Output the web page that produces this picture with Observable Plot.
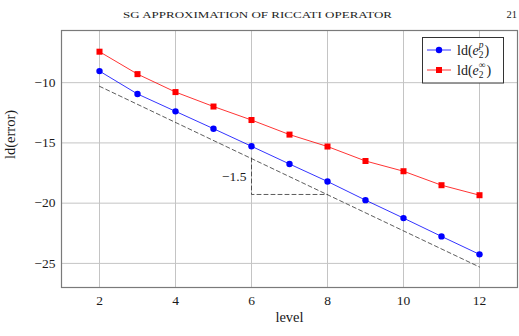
<!DOCTYPE html>
<html>
<head>
<meta charset="utf-8">
<script src="https://cdn.jsdelivr.net/npm/d3@7"></script>
<script src="https://cdn.jsdelivr.net/npm/@observablehq/plot@0.6"></script>
<style>
  html, body { margin: 0; padding: 0; background: #fff; }
  #wrap { position: relative; width: 519px; height: 336px; overflow: hidden; font-family: "Liberation Serif", serif; }
  #chart { position: absolute; left: 0; top: 0; }
  .abs { position: absolute; }
</style>
</head>
<body>
<div id="wrap">
  <div id="chart"></div>
  <svg class="abs" style="left:0;top:0" width="519" height="26">
    <text x="257.5" y="18" text-anchor="middle" font-family="Liberation Serif" font-size="9.2" textLength="269" lengthAdjust="spacingAndGlyphs" fill="#222">SG APPROXIMATION OF RICCATI OPERATOR</text>
    <text x="517" y="18" text-anchor="end" font-family="Liberation Serif" font-size="10.5" fill="#222">21</text>
  </svg>
  <svg id="legend" class="abs" style="left:422px;top:37px" width="82" height="47"></svg>
</div>
<script>
// ---- data ----
const levels = [2, 3, 4, 5, 6, 7, 8, 9, 10, 11, 12];
const ldErrP = [-9.04, -10.94, -12.38, -13.82, -15.28, -16.75, -18.20, -19.75, -21.24, -22.76, -24.25];
const ldErrInf = [-7.43, -9.29, -10.78, -11.98, -13.10, -14.31, -15.30, -16.50, -17.35, -18.51, -19.34];
const refLevels = [2, 12];
const refValues = [-10.3, -25.3];
const triLevels = [6, 6, 8];
const triValues = [-16.25, -19.28, -19.28];
const slopeLabel = "−1.5";
const slopeLabelPos = [6, -17.8];
const xTicks = [2, 4, 6, 8, 10, 12];
const yTicks = [-10, -15, -20, -25];
const seriesNames = ["p", "∞"];
const seriesColors = ["blue", "red"];
const xLabel = "level";
const yLabel = "ld(error)";

const pData = levels.map((l, i) => ({level: l, v: ldErrP[i]}));
const iData = levels.map((l, i) => ({level: l, v: ldErrInf[i]}));
const refData = refLevels.map((l, i) => ({level: l, v: refValues[i]}));
const triData = triLevels.map((l, i) => ({level: l, v: triValues[i]}));

const chart = Plot.plot({
  width: 519,
  height: 336,
  marginTop: 30,
  marginBottom: 49,
  marginLeft: 61,
  marginRight: 2,
  style: {fontFamily: "Liberation Serif", fontSize: "12px", color: "#1a1a1a", background: "transparent"},
  x: {domain: [1, 13], ticks: xTicks, tickSize: 0, tickPadding: 8, label: null},
  y: {domain: [-27, -5.67], ticks: yTicks, tickSize: 0, tickPadding: 6, label: null},
  marks: [
    Plot.gridX(xTicks, {stroke: "#c4c4c4", strokeOpacity: 1, strokeWidth: 1}),
    Plot.gridY(yTicks, {stroke: "#c4c4c4", strokeOpacity: 1, strokeWidth: 1}),
    Plot.frame({stroke: "#7a7a7a", strokeWidth: 1.2}),
    Plot.axisX(xTicks, {tickSize: 0, tickPadding: 8, fontSize: 13.5, label: null}),
    Plot.axisY(yTicks, {tickSize: 0, tickPadding: 6, fontSize: 13.5, label: null}),
    Plot.line(refData, {x: "level", y: "v", stroke: "#333", strokeWidth: 0.8, strokeDasharray: "4,3"}),
    Plot.line(triData, {x: "level", y: "v", stroke: "#333", strokeWidth: 0.8, strokeDasharray: "4,3"}),
    Plot.text([slopeLabel], {x: () => slopeLabelPos[0], y: () => slopeLabelPos[1], text: d => d, textAnchor: "end", dx: -5, fontSize: 13.5}),
    Plot.line(iData, {x: "level", y: "v", stroke: seriesColors[1], strokeWidth: 0.8}),
    Plot.line(pData, {x: "level", y: "v", stroke: seriesColors[0], strokeWidth: 0.8}),
    Plot.dot(iData, {x: "level", y: "v", symbol: "square", r: 3.4, fill: seriesColors[1], stroke: "none"}),
    Plot.dot(pData, {x: "level", y: "v", r: 3.2, fill: seriesColors[0], stroke: "none"}),
    Plot.text([xLabel], {frameAnchor: "bottom", dy: 34, text: d => d, fontSize: 14.5}),
    Plot.text([yLabel], {frameAnchor: "left", dx: -51, rotate: -90, text: d => d, fontSize: 14.5})
  ]
});
document.getElementById("chart").appendChild(chart);

// ---- legend ----
const ns = "http://www.w3.org/2000/svg";
const leg = document.getElementById("legend");
function el(name, attrs, parent) {
  const e = document.createElementNS(ns, name);
  for (const k in attrs) e.setAttribute(k, attrs[k]);
  (parent || leg).appendChild(e);
  return e;
}
el("rect", {x: 0.5, y: 0.5, width: 81, height: 45.5, fill: "#fff", stroke: "#333", "stroke-width": 1});
seriesNames.forEach((s, i) => {
  const cy = 13 + i * 20;
  el("line", {x1: 5, x2: 29, y1: cy, y2: cy, stroke: seriesColors[i], "stroke-width": 0.8});
  if (i === 0) el("circle", {cx: 17, cy: cy, r: 3.2, fill: seriesColors[i]});
  else el("rect", {x: 14, y: cy - 3, width: 6, height: 6, fill: seriesColors[i]});
  const t = el("text", {x: 35, y: cy + 4.5, "font-family": "Liberation Serif", "font-size": 14, fill: "#1a1a1a"});
  const a = el("tspan", {}, t); a.textContent = "ld(";
  const b = el("tspan", {"font-style": "italic"}, t); b.textContent = "e";
  const c = el("tspan", {"font-size": 9.5, dy: 3}, t); c.textContent = "2";
  const d = el("tspan", {"font-size": 9.5, dx: -4.8, dy: -9.5, "font-style": i === 0 ? "italic" : "normal"}, t); d.textContent = s;
  const e = el("tspan", {dy: 6.5, dx: 1}, t); e.textContent = ")";
});
</script>
</body>
</html>
